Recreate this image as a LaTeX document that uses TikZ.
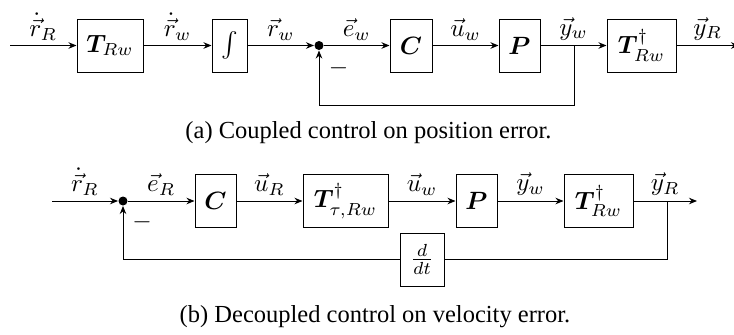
\documentclass[tikz,border=0pt]{standalone}
\usepackage{amsmath,bm}
\usepackage{fontspec}
\newfontfamily\capfont{Liberation Serif}
\usetikzlibrary{arrows.meta}
\begin{document}
\begin{tikzpicture}[x=0.4pt,y=-0.4pt,
  blk/.style={draw, minimum height=21.2pt, inner sep=0pt},
  sig/.style={-{Stealth[length=3.2pt,width=2.6pt]}},
  lbl/.style={above, inner sep=2pt},
  sumpt/.style={circle, fill, inner sep=0pt, minimum size=3.6pt},
  captxt/.style={font=\capfont\fontsize{9.8}{12}\selectfont}]
\useasboundingbox (0,0) rectangle (734,334);
% ---------- (a) ----------
\coordinate (a0) at (10,45.5);
\node[blk, minimum width=26.4pt] (aT) at (110,45.5) {$\boldsymbol{T}_{Rw}$};
\node[blk, minimum width=14pt] (aI) at (229.5,45.5) {$\int$};
\node[sumpt] (aS) at (319,45.5) {};
\node[blk, minimum width=16.8pt] (aC) at (411,45.5) {$\boldsymbol{C}$};
\node[blk, minimum width=16.4pt] (aP) at (519.5,45.5) {$\boldsymbol{P}$};
\node[blk, minimum width=27.6pt] (aTd) at (641.5,45.5) {$\boldsymbol{T}^\dagger_{Rw}$};
\coordinate (aB) at (574,45.5);
\coordinate (aF) at (574,105);
\coordinate (aE) at (739,45.5);
\draw[sig] (a0) -- node[lbl]{$\dot{\vec r}_R$} (aT);
\draw[sig] (aT) -- node[lbl]{$\dot{\vec r}_w$} (aI);
\draw[sig] (aI) -- node[lbl]{$\vec r_w$} (aS);
\draw[sig] (aS) -- node[lbl]{$\vec e_w$} (aC);
\draw[sig] (aC) -- node[lbl]{$\vec u_w$} (aP);
\draw[sig] (aP) -- node[lbl]{$\vec y_w$} (aTd);
\draw[sig] (aTd) -- node[lbl]{$\vec y_R$} (aE);
\draw[sig] (aB) -- (aF) -| (aS);
\node (aM) at (338.5,68) {$-$};
\node[captxt] (capA) at (368.5,133) {(a) Coupled control on position error.};
% ---------- (b) ----------
\coordinate (b0) at (52,201);
\node[sumpt] (bS) at (123,201) {};
\node[blk, minimum width=16.4pt] (bC) at (215.5,201) {$\boldsymbol{C}$};
\node[blk, minimum width=34pt] (bTt) at (345.5,201) {$\boldsymbol{T}^\dagger_{\tau,Rw}$};
\node[blk, minimum width=16.4pt] (bP) at (476.5,201) {$\boldsymbol{P}$};
\node[blk, minimum width=27.6pt] (bTd) at (598.5,201) {$\boldsymbol{T}^\dagger_{Rw}$};
\coordinate (bB) at (667,201);
\coordinate (bE) at (697,201);
\node[blk, minimum width=17.6pt] (bD) at (422,259.5) {$\frac{d}{dt}$};
\coordinate (bF) at (667,259.5);
\draw[sig] (b0) -- node[lbl]{$\dot{\vec r}_R$} (bS);
\draw[sig] (bS) -- node[lbl]{$\vec e_R$} (bC);
\draw[sig] (bC) -- node[lbl]{$\vec u_R$} (bTt);
\draw[sig] (bTt) -- node[lbl]{$\vec u_w$} (bP);
\draw[sig] (bP) -- node[lbl]{$\vec y_w$} (bTd);
\draw[sig] (bTd) -- node[lbl]{$\vec y_R$} (bE);
\draw (bB) -- (bF) -- (bD);
\draw[sig] (bD) -| (bS);
\node (bM) at (142,222) {$-$};
\node[captxt] (capB) at (375,317) {(b) Decoupled control on velocity error.};
\end{tikzpicture}
\end{document}
